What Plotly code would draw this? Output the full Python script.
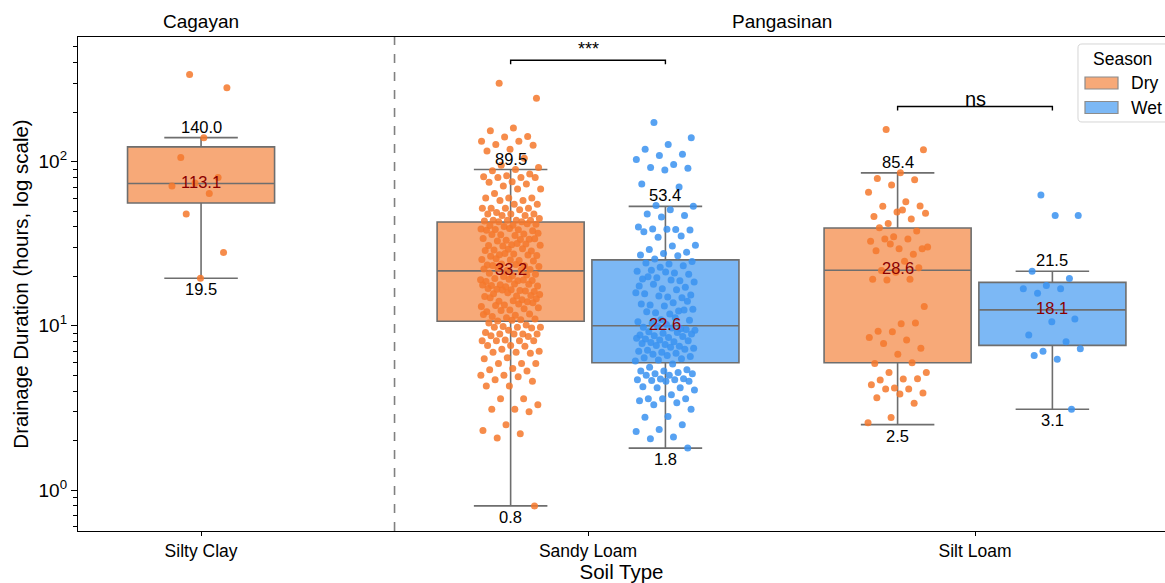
import numpy as np
import plotly.graph_objects as go

# ---- categories ----
soil_types = ["Silty Clay", "Sandy Loam", "Silt Loam"]
regions = ["Cagayan", "Pangasinan"]
region_of_soil = ["Cagayan", "Pangasinan", "Pangasinan"]
seasons = ["Dry", "Wet"]

# ---- one entry per (soil type, season) group ----
group_soil = ["Silty Clay", "Sandy Loam", "Sandy Loam", "Silt Loam", "Silt Loam"]
group_season = ["Dry", "Dry", "Wet", "Dry", "Wet"]

# box statistics (hours)
q1 = [56.0, 10.65, 5.96, 5.96, 7.6]
median = [73.5, 21.6, 10.0, 21.8, 12.5]
q3 = [123.0, 42.9, 25.2, 39.4, 18.4]
whisker_low = [19.5, 0.8, 1.8, 2.5, 3.1]
whisker_high = [140.0, 89.5, 53.4, 85.4, 21.5]
mean_hours = [113.1, 33.2, 22.6, 28.6, 18.1]

# ---- individual observations (hours) ----
silty_clay_dry = [339, 282, 140.0, 106, 80, 74, 71, 64, 48, 28, 19.5]

sandy_loam_dry = [
    300, 243, 160, 154, 142, 141, 133, 133, 127, 126, 119, 116, 105, 95, 92, 89.5,
    88, 84, 82, 81, 80, 80, 80, 75.5, 75, 73, 71, 68, 68, 64, 60, 60, 60, 58, 58,
    55, 55, 52, 52, 52, 52, 51, 49, 48, 48, 48, 47, 47, 45, 44, 44, 44, 44, 43.5, 43, 43,
    41.5, 41.0, 40.8, 41.8, 40.2, 38.9, 38.4, 38.6, 37.9, 39.1, 38.2, 36.3, 35.8, 36.6,
    35.5, 36.0, 33.7, 33.2, 34.0, 33.5, 32.9, 33.9, 31.2, 30.8, 31.5, 30.6, 31.0, 31.7,
    29.0, 28.6, 29.3, 28.8, 29.5, 27.1, 26.8, 27.4, 26.5, 27.0, 27.6, 25.3, 25.0, 25.6,
    24.8, 25.2, 23.5, 23.2, 23.8, 23.0, 23.6, 23.3, 22.0, 21.8, 22.2, 21.9, 22.4,
    20.6, 20.2, 20.9, 20.4, 20.0, 19.1, 18.8, 19.4, 18.9, 19.2, 18.6, 19.0, 17.8, 17.5,
    18.0, 17.6, 17.9, 17.3, 17.7, 16.4, 16.7, 16.2, 16.6, 16.9, 16.3, 16.5, 15.5, 15.2,
    15.7, 15.3, 15.9, 15.1, 14.4, 14.1, 14.6, 14.2, 14.8, 14.0, 13.4, 13.1, 13.6, 13.3,
    13.8, 12.5, 12.2, 12.7, 12.4, 12.9, 11.6, 11.4, 11.8, 11.2, 11.7, 10.9, 10.7, 11.0, 10.8,
    10.4, 10.1, 9.9, 9.8, 9.8, 9.8, 9.7, 9.4, 9.1, 8.9, 8.9, 8.9, 8.9, 8.7, 8.6, 8.2,
    8.1, 8.1, 8.1, 8.1, 7.6, 7.6, 7.5, 7.2, 7.0, 6.9, 6.9, 6.8, 6.4, 6.3, 5.9, 5.9, 5.9,
    5.5, 5.4, 5.3, 5.0, 5.0, 4.9, 4.7, 4.6, 4.3, 4.3, 3.6, 3.6, 3.3, 3.1, 3.1, 3.0,
    2.5, 2.3, 2.2, 2.07, 0.8,
]

sandy_loam_wet = [
    173, 140, 127, 119, 111, 109, 103, 96, 92, 91, 89, 73, 70, 54, 53.4,
    51, 48, 47, 46, 40, 38.6, 38.9, 38.3, 38.7, 37.4, 35.2, 34.6, 31.0, 30.6, 29.2,
    28.1, 27.6, 27.0, 26.7, 25.5,
    24.6, 23.8, 24.1, 23.2, 22.7, 21.5, 21.0, 21.8, 20.6, 21.3, 19.3, 18.8, 19.6, 18.5,
    19.0, 19.9, 17.2, 16.8, 17.5, 16.6, 17.9, 15.4, 15.0, 15.7, 14.8, 15.2, 15.9, 13.8,
    13.4, 14.1, 13.2, 13.6, 12.3, 12.0, 12.6, 11.8, 12.2, 12.5, 10.9, 10.6, 11.2, 10.4,
    10.8, 10.2,
    9.8, 9.6, 9.9, 9.4, 9.7, 9.2, 9.5, 9.0, 8.8, 9.1, 8.7, 8.9, 8.5, 8.3, 8.6, 8.2, 8.4,
    8.0, 7.9, 8.1, 7.7, 7.8, 7.5, 7.6, 7.3, 7.4, 7.1, 7.2, 6.9, 7.0, 6.8, 6.7, 6.5, 6.6,
    6.4, 6.3, 6.2, 6.1,
    5.85, 5.6, 5.4, 5.3, 5.3, 5.2, 5.1, 5.1, 5.0, 5.0, 4.76, 4.74, 4.7, 4.7, 4.65, 4.6,
    4.6, 4.26, 4.2, 4.2, 4.06, 3.8, 3.6, 3.6, 3.6, 3.5, 3.4, 3.3, 3.1, 2.8, 2.77, 2.5,
    2.34, 2.27, 2.1, 2.05, 1.8,
]

silt_loam_dry = [
    157, 118, 85.4, 79, 77.6, 72, 65, 57, 53.5, 53.7, 49.3, 46.3, 44.7, 42, 48.4, 50.7,
    39.6, 37.8, 34.9, 32.7, 33.8, 33.8, 29.5, 29.5, 28.7, 27.3, 31.5, 30.2, 24.7, 21.7,
    22.6, 21.2, 19.2, 19.2, 19.0,
    13.1, 10.3, 9.25, 10.4, 9.2, 8.5, 8.2, 7.8, 7.3, 6.7, 5.9, 5.96,
    5.2, 5.2, 4.74, 4.67, 4.76, 4.18, 4.38, 4.12, 4.12, 3.9, 3.84, 3.65, 3.37, 2.76, 2.57,
]

silt_loam_wet = [62.6, 46.9, 46.9, 21.5, 19.4, 17.6, 16.8, 16.8, 15.8, 11.0, 10.6,
                 8.8, 8.0, 7.0, 7.25, 6.25, 6.6, 3.1]

group_values = [silty_clay_dry, sandy_loam_dry, sandy_loam_wet, silt_loam_dry, silt_loam_wet]

# significance of Dry vs Wet within a soil type
sig_soil = ["Sandy Loam", "Silt Loam"]
sig_label = ["***", "ns"]

# ---- styling ----
FONT = "Liberation Sans, Arial, sans-serif"
box_fill = {"Dry": "#F7A978", "Wet": "#7CB8F5"}
point_color = {"Dry": "#F4782C", "Wet": "#3A92F0"}
BOX_EDGE = "#6E6E6E"
BOX_WIDTH = 0.38
DODGE = 0.2
JITTER = 0.078

W, H = 1165, 583
M_L, M_R, M_T, M_B = 78, 0, 37, 52


def group_x(i):
    soil = group_soil[i]
    k = soil_types.index(soil)
    n_seasons = sum(1 for s in group_soil if s == soil)
    if n_seasons == 1:
        return float(k)
    return k + (-DODGE if group_season[i] == "Dry" else DODGE)


def px_to_paper(px, py):
    """Convert a pixel position on the canvas to paper coordinates."""
    pw, ph = W - M_L - M_R, H - M_T - M_B
    return (px - M_L) / pw, (H - M_B - py) / ph


def rounded_rect_path(x0, y0, x1, y1, r):
    """SVG path (paper units) for a rectangle with rounded corners, given in pixels."""
    pts = [
        ("M", [(x0 + r, y0)]), ("L", [(x1 - r, y0)]), ("Q", [(x1, y0), (x1, y0 + r)]),
        ("L", [(x1, y1 - r)]), ("Q", [(x1, y1), (x1 - r, y1)]),
        ("L", [(x0 + r, y1)]), ("Q", [(x0, y1), (x0, y1 - r)]),
        ("L", [(x0, y0 + r)]), ("Q", [(x0, y0), (x0 + r, y0)]),
    ]
    parts = []
    for cmd, coords in pts:
        cs = " ".join("%.5f,%.5f" % px_to_paper(a, b) for a, b in coords)
        parts.append(f"{cmd} {cs}")
    return " ".join(parts) + " Z"


fig = go.Figure()

# boxes from the summary statistics
for i in range(len(group_soil)):
    season = group_season[i]
    fig.add_trace(go.Box(
        x=[group_x(i)], q1=[q1[i]], median=[median[i]], q3=[q3[i]],
        lowerfence=[whisker_low[i]], upperfence=[whisker_high[i]],
        width=BOX_WIDTH, whiskerwidth=0.5, boxpoints=False,
        fillcolor=box_fill[season], line=dict(color=BOX_EDGE, width=1.6),
        name=season, showlegend=False, hoverinfo="skip",
    ))

# strip of observations over each box (deterministic spread)
for i, vals in enumerate(group_values):
    n = len(vals)
    spread = ((np.arange(n) * 0.6180339887 + 0.31) % 1.0 - 0.5) * 2 * JITTER
    fig.add_trace(go.Scatter(
        x=group_x(i) + spread, y=vals, mode="markers",
        marker=dict(size=7, color=point_color[group_season[i]], opacity=0.85,
                    line=dict(width=0)),
        showlegend=False, hoverinfo="y",
    ))

# significance brackets
for soil, lab in zip(sig_soil, sig_label):
    idx = [i for i in range(len(group_soil)) if group_soil[i] == soil]
    top = max(max(group_values[i]) for i in idx) * 1.38
    xa, xb = group_x(idx[0]), group_x(idx[1])
    fig.add_trace(go.Scatter(
        x=[xa, xa, xb, xb], y=[top / 1.058, top, top, top / 1.058], mode="lines",
        line=dict(color="black", width=1.4), showlegend=False, hoverinfo="skip",
    ))
    fig.add_annotation(
        x=(xa + xb) / 2, y=np.log10(top), text=lab, showarrow=False,
        yanchor="bottom", yshift=-1 if lab == "***" else -6,
        font=dict(size=18 if lab == "***" else 20, color="black", family=FONT),
    )

# whisker and mean labels
for i in range(len(group_soil)):
    x = group_x(i)
    fig.add_annotation(x=x, y=np.log10(whisker_high[i]), text=f"{whisker_high[i]:.1f}",
                       showarrow=False, yanchor="bottom", yshift=0,
                       font=dict(size=16.5, color="black", family=FONT))
    fig.add_annotation(x=x, y=np.log10(whisker_low[i]), text=f"{whisker_low[i]:.1f}",
                       showarrow=False, yanchor="top", yshift=0,
                       font=dict(size=16.5, color="black", family=FONT))
    fig.add_annotation(x=x, y=np.log10(median[i]), text=f"{mean_hours[i]:.1f}",
                       showarrow=False, yanchor="middle", yshift=2,
                       font=dict(size=16.5, color="#8B0000", family=FONT))

# region headers and separator
for reg in regions:
    ks = [k for k, r in enumerate(region_of_soil) if r == reg]
    fig.add_annotation(x=sum(ks) / len(ks), y=1.0, yref="paper", yanchor="bottom",
                       yshift=3, text=reg, showarrow=False,
                       font=dict(size=19, color="black", family=FONT))
fig.add_shape(type="line", x0=0.5, x1=0.5, y0=0, y1=1, yref="paper", xref="x",
              line=dict(color="#808080", width=1.6, dash="dash"))

# legend panel: frame, title, colour patches and season names
fig.add_shape(type="path", xref="paper", yref="paper",
              path=rounded_rect_path(1078, 44, 1172, 122, 4),
              line=dict(color="#D5D5D5", width=1), fillcolor="rgba(255,255,255,0.9)",
              layer="above")
tx, ty = px_to_paper(1122, 59)
fig.add_annotation(xref="paper", yref="paper", x=tx, y=ty, text="Season",
                   showarrow=False, xanchor="center", yanchor="middle",
                   font=dict(size=17.5, color="black", family=FONT))
for j, season in enumerate(seasons):
    cy = 83 + 24.5 * j
    px0, py0 = px_to_paper(1085, cy - 6)
    px1, py1 = px_to_paper(1118, cy + 6)
    fig.add_shape(type="rect", xref="paper", yref="paper", x0=px0, x1=px1, y0=py1, y1=py0,
                  fillcolor=box_fill[season], line=dict(color="#8C8C8C", width=1.2),
                  layer="above")
    nx, ny = px_to_paper(1129, cy)
    fig.add_annotation(xref="paper", yref="paper", x=nx, y=ny, text=season,
                       showarrow=False, xanchor="left", yanchor="middle",
                       font=dict(size=17.5, color="black", family=FONT))

minor_vals = [m * 10.0 ** e for e in range(-1, 3) for m in range(2, 10)
              if 0.55 < m * 10.0 ** e < 580]

fig.update_layout(
    width=W, height=H,
    margin=dict(l=M_L, r=M_R, t=M_T, b=M_B),
    paper_bgcolor="white", plot_bgcolor="white",
    boxmode="overlay", showlegend=False,
    font=dict(family=FONT, size=16, color="black"),
    xaxis=dict(
        range=[-0.318, 2.491], tickmode="array", tickvals=[0, 1, 2], ticktext=soil_types,
        showline=True, linecolor="black", linewidth=1.2, mirror=True,
        ticks="outside", ticklen=4, tickcolor="black", tickwidth=1,
        showgrid=False, zeroline=False, tickfont=dict(size=17.5),
        title=dict(text="Soil Type", font=dict(size=20.5), standoff=2),
    ),
    yaxis=dict(
        type="log", range=[-0.2497, 2.759],
        tickmode="array", tickvals=[1, 10, 100],
        ticktext=["10<sup>0</sup>", "10<sup>1</sup>", "10<sup>2</sup>"],
        showline=True, linecolor="black", linewidth=1.2,
        ticks="outside", ticklen=6, tickcolor="black", tickwidth=1,
        minor=dict(tickmode="array", tickvals=minor_vals, ticks="outside",
                   ticklen=3.5, tickcolor="black", showgrid=False),
        showgrid=False, zeroline=False, tickfont=dict(size=19),
        title=dict(text="Drainage Duration (hours, log scale)", font=dict(size=20.5),
                   standoff=4),
    ),
)

fig.write_html("out.html")
